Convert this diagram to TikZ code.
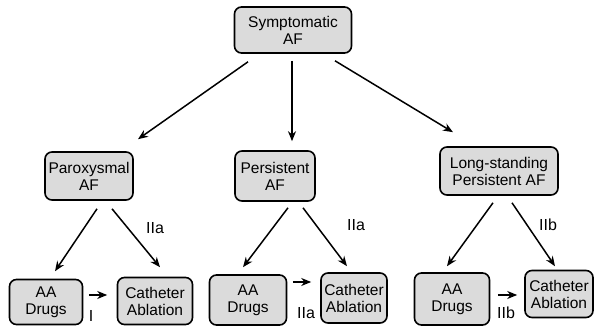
\documentclass[tikz,border=0pt]{standalone}
\usepackage{fontspec}
\setmainfont{Liberation Sans}
\usetikzlibrary{arrows.meta}
\begin{document}
\begin{tikzpicture}[x=1pt,y=1pt,
  box/.style={draw=black,line width=1.6pt,rounded corners=7pt,fill=gray!28,
    align=center,inner sep=1pt,font=\fontsize{15.5}{17}\selectfont},
  arr/.style={line width=1.5pt,-{Stealth[length=10pt,width=8pt]}},
  lbl/.style={font=\fontsize{16}{17}\selectfont,inner sep=0pt}]
\useasboundingbox (0,0) rectangle (600,328);
\node[box,minimum width=117pt,minimum height=46pt] (sym) at (293,298) {Symptomatic\\AF};
\node[box,minimum width=88pt,minimum height=48pt] (par) at (89,152) {Paroxysmal\\AF};
\node[box,minimum width=80pt,minimum height=50pt] (per) at (275,152) {Persistent\\AF};
\node[box,minimum width=118pt,minimum height=48pt] (lsp) at (499,157) {Long-standing\\Persistent AF};
\node[box,minimum width=73pt,minimum height=45pt] (aa1) at (46,26) {AA\\Drugs};
\node[box,minimum width=75pt,minimum height=47pt] (ca1) at (155,27) {Catheter\\Ablation};
\node[box,minimum width=77pt,minimum height=50pt] (aa2) at (248,28) {AA\\Drugs};
\node[box,minimum width=66pt,minimum height=50pt] (ca2) at (354,30) {Catheter\\Ablation};
\node[box,minimum width=75pt,minimum height=52pt] (aa3) at (452,29) {AA\\Drugs};
\node[box,minimum width=68pt,minimum height=47pt] (ca3) at (559,34) {Catheter\\Ablation};
% top level arrows
\draw[arr] ([shift={(-45,-8)}]sym.south) -- ([shift={(49,12)}]par.north);
\draw[arr] ([shift={(-1,-7)}]sym.south) -- ([shift={(17,9)}]per.north);
\draw[arr] ([shift={(42,-7)}]sym.south) -- ([shift={(-46,14)}]lsp.north);
% second level
\draw[arr] ([shift={(8,-8)}]par.south) -- ([shift={(9,7.5)}]aa1.north);
\draw[arr] ([shift={(23,-8)}]par.south) -- ([shift={(5,9.5)}]ca1.north);
\draw[arr] ([shift={(13,-6)}]per.south) -- ([shift={(-5,7)}]aa2.north);
\draw[arr] ([shift={(28,-6)}]per.south) -- ([shift={(-7,6)}]ca2.north);
\draw[arr] ([shift={(-6,-7)}]lsp.south) -- ([shift={(-5,6)}]aa3.north);
\draw[arr] ([shift={(13,-7)}]lsp.south) -- ([shift={(-4,3.5)}]ca3.north);
% horizontal
\draw[arr] ([shift={(5.5,7)}]aa1.east) -- ([shift={(-9.5,6)}]ca1.west);
\draw[arr] ([shift={(5.5,18)}]aa2.east) -- ([shift={(-9,16)}]ca2.west);
\draw[arr] ([shift={(7.5,4)}]aa3.east) -- ([shift={(-7,-1)}]ca3.west);
% labels
\node[lbl] (l1) at (155,100) {IIa};
\node[lbl] (l2) at (356,103) {IIa};
\node[lbl] (l3) at (548,103) {IIb};
\node[lbl] (l4) at (91,12) {I};
\node[lbl] (l5) at (306,15) {IIa};
\node[lbl] (l6) at (506,15) {IIb};
\end{tikzpicture}
\end{document}
